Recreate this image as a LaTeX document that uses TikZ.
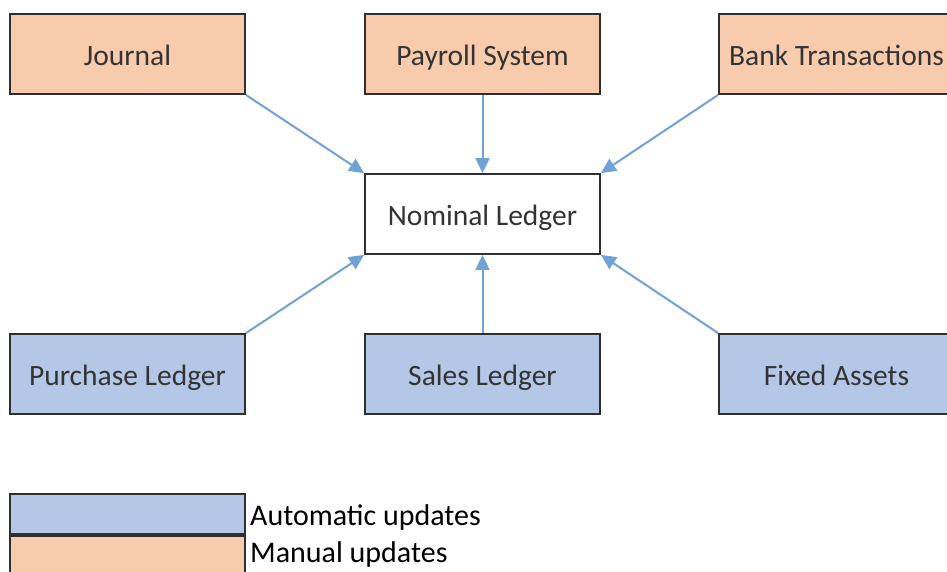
\documentclass[tikz,border=0pt]{standalone}
\usepackage{fontspec}
\setmainfont{Carlito}
\usetikzlibrary{arrows.meta}
\definecolor{manual}{HTML}{F8CBAD}
\definecolor{auto}{HTML}{B4C7E7}
\definecolor{arr}{HTML}{6FA3D6}
\definecolor{edge}{HTML}{2F2F2F}
\tikzset{
  box/.style={draw=edge, line width=1.8pt, minimum width=235pt, minimum height=80pt, inner sep=0pt, text height=22pt, text depth=0pt, text=black!80, font=\fontsize{29.5}{34}\selectfont},
  manbox/.style={box, fill=manual},
  autobox/.style={box, fill=auto},
  plainbox/.style={box, fill=white},
  conn/.style={draw=arr, line width=2pt, -{Triangle[length=15pt,width=14pt]}},
  legtext/.style={anchor=base west, inner sep=0pt, font=\fontsize{30}{34}\selectfont}
}
\begin{document}
\begin{tikzpicture}[x=1pt,y=-1pt]
\useasboundingbox (0,0) rectangle (947,571);
\fill[white] (0,0) rectangle (947,571);
\node[manbox] (journal) at (127.5,54) {Journal};
\node[manbox] (payroll) at (482.5,54) {Payroll System};
\node[manbox] (bank) at (836.5,54) {Bank Transactions};
\node[plainbox] (nominal) at (482.5,214) {Nominal Ledger};
\node[autobox] (purchase) at (127.5,374) {Purchase Ledger};
\node[autobox] (sales) at (482.5,374) {Sales Ledger};
\node[autobox] (fixed) at (836.5,374) {Fixed Assets};
\draw[conn] (journal.south east) -- (nominal.north west);
\draw[conn] (payroll.south) -- (nominal.north);
\draw[conn] (bank.south west) -- (nominal.north east);
\draw[conn] (purchase.north east) -- (nominal.south west);
\draw[conn] (sales.north) -- (nominal.south);
\draw[conn] (fixed.north west) -- (nominal.south east);
\node[draw=edge, line width=1.8pt, fill=auto, minimum width=235pt, minimum height=40pt, inner sep=0pt] (legauto) at (127.5,514) {};
\node[draw=edge, line width=1.8pt, fill=manual, minimum width=235pt, minimum height=40pt, inner sep=0pt, anchor=north] (legman) at (legauto.south) {};
\node[legtext] (tauto) at (250,525) {Automatic updates};
\node[legtext] (tman) at (250,562) {Manual updates};
\end{tikzpicture}
\end{document}
